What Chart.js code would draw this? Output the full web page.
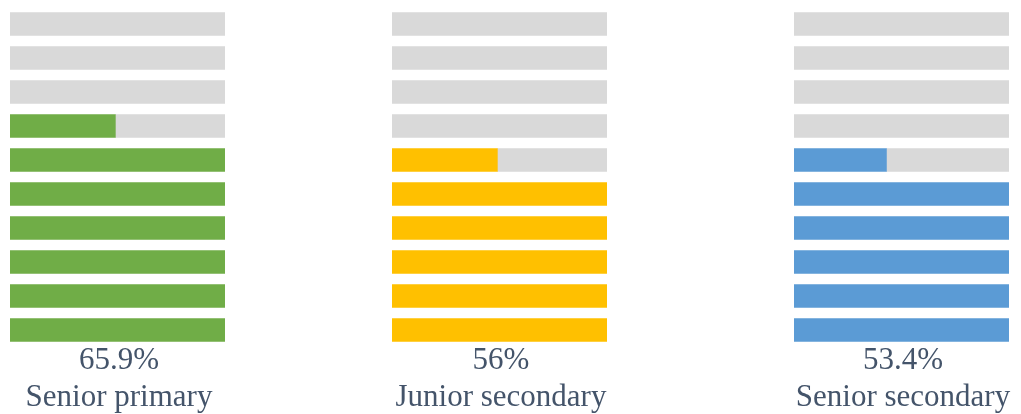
<!DOCTYPE html>
<html>
<head>
<meta charset="utf-8">
<script src="https://cdn.jsdelivr.net/npm/chart.js@4/dist/chart.umd.min.js"></script>
<style>
  body { margin: 0; width: 1021px; height: 414px; background: #fff; position: relative; overflow: hidden; }
  canvas { position: absolute; }
  .pct, .cat {
    position: absolute; width: 300px; text-align: center;
    font-family: "Liberation Serif", "Times New Roman", serif; font-size: 31px; color: #44546A;
    line-height: 1;
  }
</style>
</head>
<body>
<canvas id="c0" width="215" height="340"></canvas>
<canvas id="c1" width="215" height="340"></canvas>
<canvas id="c2" width="215" height="340"></canvas>

<script>
// categories and headline percentages
const categories = ['Senior primary', 'Junior secondary', 'Senior secondary'];
const percentLabels = ['65.9%', '56%', '53.4%'];

// filled share of each of the 10 rows, top row first
const seniorPrimary   = [0, 0, 0, 0.49, 1, 1, 1, 1, 1, 1];
const juniorSecondary = [0, 0, 0, 0, 0.49, 1, 1, 1, 1, 1];
const seniorSecondary = [0, 0, 0, 0, 0.43, 1, 1, 1, 1, 1];

const rowLabels = ['1', '2', '3', '4', '5', '6', '7', '8', '9', '10'];
const series = [seniorPrimary, juniorSecondary, seniorSecondary];
const colors = ['#70AD47', '#FFC000', '#5B9BD5'];
const lefts = [10, 392, 794];

series.forEach((vals, i) => {
    const cv = document.getElementById('c' + i);
    cv.style.left = lefts[i] + 'px';
    cv.style.top = '6.5px';

    new Chart(cv.getContext('2d'), {
        type: 'bar',
        data: {
            labels: rowLabels,
            datasets: [
                // zeros become null so no hairline is drawn
                { data: vals.map(v => v || null), backgroundColor: colors[i], barThickness: 23 },
                { data: vals.map(v => (1 - v) || null), backgroundColor: '#D9D9D9', barThickness: 23 }
            ]
        },
        options: {
            indexAxis: 'y',
            responsive: false,
            animation: false,
            devicePixelRatio: 1,
            layout: { padding: 0 },
            plugins: { legend: { display: false }, tooltip: { enabled: false } },
            scales: {
                x: { stacked: true, min: 0, max: 1, display: false },
                y: { stacked: true, display: false }
            }
        }
    });

    // percentage and category text under each panel
    const center = lefts[i] + 109;
    const p = document.createElement('div');
    p.className = 'pct';
    p.textContent = percentLabels[i];
    p.style.left = (center - 150) + 'px';
    p.style.top = '343px';
    document.body.appendChild(p);

    const c = document.createElement('div');
    c.className = 'cat';
    c.textContent = categories[i];
    c.style.left = (center - 150) + 'px';
    c.style.top = '380px';
    document.body.appendChild(c);
});
</script>
</body>
</html>
